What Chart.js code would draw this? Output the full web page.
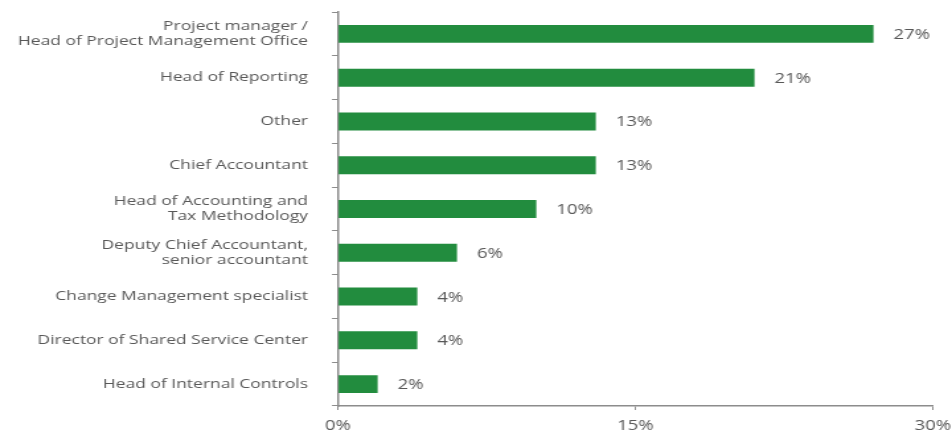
<!DOCTYPE html>
<html>
<head>
<meta charset="utf-8">
<script src="https://cdn.jsdelivr.net/npm/chart.js@4/dist/chart.umd.min.js"></script>
<style>
  html, body { margin: 0; padding: 0; background: #fff; overflow: hidden; }
  /* the drawing is made on a narrower canvas and widened, so text comes out wide */
  #roles-chart { display: block; width: 952px; height: 432px; }
</style>
</head>
<body>
<canvas id="roles-chart" width="720" height="432" style="width:952px;height:432px"></canvas>
<script>
"use strict";

// Survey roles and their shares (%)
var roles = [
    ["Project manager /", "Head of Project Management Office"],
    "Head of Reporting",
    "Other",
    "Chief Accountant",
    ["Head of Accounting and", "Tax Methodology"],
    ["Deputy Chief Accountant,", "senior accountant"],
    "Change Management specialist",
    "Director of Shared Service Center",
    "Head of Internal Controls"
];
var shares = [27, 21, 13, 13, 10, 6, 4, 4, 2];
var axisTicks = [0, 15, 30];

var textColor = "#585858";
var axisColor = "#8c8c8c";
var stretch = 952 / 720;

// Draw the value next to the end of each bar
var valueLabels = {
    id: "valueLabels",
    afterDatasetsDraw: function (chart) {
        var ctx = chart.ctx;
        var meta = chart.getDatasetMeta(0);
        ctx.save();
        ctx.fillStyle = textColor;
        ctx.font = "14px 'Open Sans'";
        ctx.textAlign = "left";
        ctx.textBaseline = "middle";
        meta.data.forEach(function (bar, i) {
            ctx.fillText(shares[i] + "%", bar.x + 20 / stretch, bar.y + 1);
        });
        ctx.restore();
    }
};

new Chart(document.getElementById("roles-chart"), {
    type: "bar",
    data: {
        labels: roles,
        datasets: [{
            data: shares,
            backgroundColor: "#228c3e",
            borderWidth: 0,
            categoryPercentage: 0.82,
            barPercentage: 0.5
        }]
    },
    plugins: [valueLabels],
    options: {
        indexAxis: "y",
        responsive: false,
        devicePixelRatio: 1,
        animation: false,
        layout: { padding: { top: 12, right: 19 / stretch, left: 0, bottom: 0 } },
        plugins: {
            legend: { display: false },
            tooltip: { enabled: false }
        },
        scales: {
            x: {
                min: 0,
                max: 30,
                afterBuildTicks: function (scale) {
                    scale.ticks = axisTicks.map(function (v) { return { value: v }; });
                },
                afterFit: function (scale) {
                    scale.height = 26;
                    scale.paddingLeft = 0;
                    scale.paddingRight = 0;
                },
                border: { display: true, color: axisColor, width: 1.5 },
                grid: {
                    drawOnChartArea: false,
                    drawTicks: true,
                    tickLength: 4,
                    color: axisColor
                },
                ticks: {
                    color: textColor,
                    font: { family: "'Open Sans'", size: 14 },
                    padding: 8,
                    maxRotation: 0,
                    callback: function (v) { return v + "%"; }
                }
            },
            y: {
                afterFit: function (scale) {
                    scale.width = 338 / stretch;
                    scale.paddingTop = 0;
                    scale.paddingBottom = 0;
                },
                border: { display: true, color: axisColor, width: 1.5 },
                grid: {
                    offset: true,
                    drawOnChartArea: false,
                    drawTicks: true,
                    tickLength: 6 / stretch,
                    color: axisColor
                },
                ticks: {
                    color: textColor,
                    font: { family: "'Open Sans'", size: 13.2, lineHeight: "15px" },
                    padding: 24 / stretch
                }
            }
        }
    }
});
</script>
</body>
</html>
